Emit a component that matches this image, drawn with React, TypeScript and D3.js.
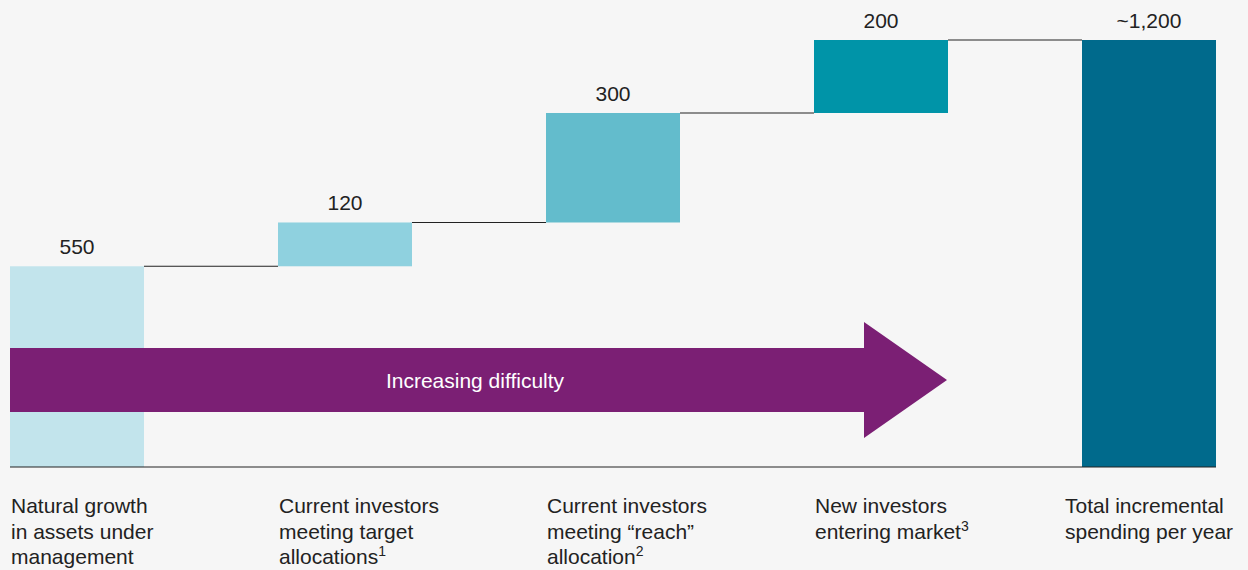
import React from "react";
import * as d3 from "d3";

const categories: string[][] = [
  ["Natural growth", "in assets under", "management"],
  ["Current investors", "meeting target", "allocations"],
  ["Current investors", "meeting \u201Creach\u201D", "allocation"],
  ["New investors", "entering market"],
  ["Total incremental", "spending per year"],
];
const footnotes: string[] = ["", "1", "2", "3", ""];
const values: number[] = [550, 120, 300, 200];
const valueLabels: string[] = ["550", "120", "300", "200", "~1,200"];
const colors: string[] = ["#c2e4ec", "#8fd1df", "#63bccc", "#0094a8", "#006a8c"];
const arrowLabel = "Increasing difficulty";

const W = 1248;
const H = 570;
const FONT = "'Liberation Sans', Arial, Helvetica, sans-serif";

export default function App() {
  const total = d3.sum(values);
  const bars = values.map((v, i) => {
    const start = d3.sum(values.slice(0, i));
    return { start, end: start + v };
  });
  bars.push({ start: 0, end: total });

  const x = d3
    .scaleBand<number>()
    .domain(d3.range(5))
    .range([10, 1350])
    .padding(0);
  const bw = 134;
  const xPos = (i: number) => x(i) as number;
  const y = d3.scaleLinear().domain([0, total]).range([467, 40]);
  const labelX = (i: number) => (i === 4 ? xPos(i) - 17 : xPos(i) + 1);

  // arrow geometry
  const ax0 = 10;
  const aBodyEnd = 864;
  const aTip = 947;
  const aTop = 348;
  const aBot = 412;
  const aHeadTop = 322;
  const aHeadBot = 438;
  const aMid = (aTop + aBot) / 2;
  const arrowPath = `M${ax0},${aTop}L${aBodyEnd},${aTop}L${aBodyEnd},${aHeadTop}L${aTip},${aMid}L${aBodyEnd},${aHeadBot}L${aBodyEnd},${aBot}L${ax0},${aBot}Z`;

  return (
    <svg
      width={W}
      height={H}
      style={{ position: "absolute", left: 0, top: 0, background: "#f6f6f6" }}
      fontFamily={FONT}
    >
      <rect x={0} y={0} width={W} height={H} fill="#f6f6f6" />
      {bars.map((b, i) => (
        <rect
          key={"b" + i}
          x={xPos(i)}
          y={y(b.end)}
          width={bw}
          height={y(b.start) - y(b.end)}
          fill={colors[i]}
        />
      ))}
      {bars.slice(0, 4).map((b, i) => (
        <line
          key={"c" + i}
          x1={xPos(i) + bw}
          x2={xPos(i + 1)}
          y1={y(b.end)}
          y2={y(b.end)}
          stroke="#222"
          strokeWidth={1.2}
        />
      ))}
      <line x1={10} x2={1216} y1={y(0)} y2={y(0)} stroke="#222" strokeWidth={1.2} />
      {bars.map((b, i) => (
        <text
          key={"v" + i}
          x={xPos(i) + bw / 2}
          y={y(b.end) - 12}
          textAnchor="middle"
          fontSize={21}
          fill="#222"
        >
          {valueLabels[i]}
        </text>
      ))}
      <path d={arrowPath} fill="#7b1f74" />
      <text x={475} y={388} textAnchor="middle" fontSize={21} fill="#ffffff">
        {arrowLabel}
      </text>
      {categories.map((lines, i) => (
        <text key={"l" + i} x={labelX(i)} y={513} fontSize={21} fill="#222">
          {lines.map((ln, j) => (
            <tspan key={j} x={labelX(i)} y={513 + j * 25.5}>
              {ln}
              {j === lines.length - 1 && footnotes[i] ? (
                <tspan fontSize={14} dy={-8}>
                  {footnotes[i]}
                </tspan>
              ) : null}
            </tspan>
          ))}
        </text>
      ))}
    </svg>
  );
}
